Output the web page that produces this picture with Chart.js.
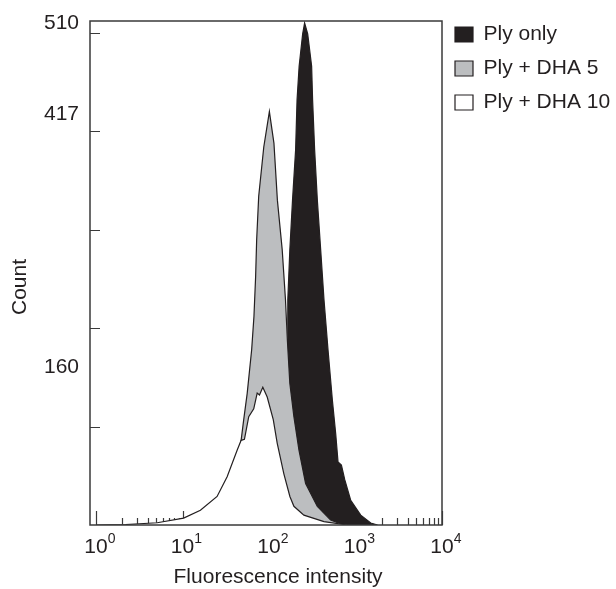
<!DOCTYPE html>
<html>
<head>
<meta charset="utf-8">
<script src="https://cdn.jsdelivr.net/npm/chart.js@4.4.1/dist/chart.umd.min.js"></script>
<style>
  html, body { margin: 0; padding: 0; background: #fff; overflow: hidden; }
  canvas { display: block; }
</style>
</head>
<body>
<canvas id="histChart" width="640" height="589"></canvas>
<script>
// --- DADOS ---
const seriesLabels = ['Ply only', 'Ply + DHA 5', 'Ply + DHA 10'];

const plyOnlyX = [104, 122, 136, 151, 163, 165, 174, 187, 203, 211, 223, 245, 258, 280, 311, 319, 337, 362, 396, 432, 481, 540, 590, 628, 687, 751, 881, 1150, 1500, 1800];
const plyOnlyCount = [0, 15, 50, 120, 188, 229, 279, 330, 381, 432, 466, 499, 510, 499, 466, 432, 381, 330, 279, 229, 178, 127, 93, 64, 61, 46, 25, 10, 2, 0];

const dha5X = [4.2, 16, 31, 41, 47.6, 51, 56, 63, 67, 70, 72, 76, 87, 101, 114, 125, 142, 155, 163, 174, 194, 222, 265, 362, 516, 731];
const dha5Count = [0, 5, 30, 60, 86, 107, 134, 178, 212, 252, 290, 334, 384, 420, 388, 330, 280, 229, 188, 144, 110, 76, 42, 19, 5, 0];

const dha10X = [1, 2.2, 5.1, 10.3, 16.1, 25.1, 32.8, 42.8, 47.6, 52, 58.3, 66.6, 73, 77.6, 84.8, 95.3, 112, 124.5, 148.5, 174.3, 194, 253, 432, 807];
const dha10Count = [0, 0.5, 2.3, 7, 15, 29, 49, 76, 86, 87, 110, 118, 134, 132, 140, 130, 107, 83, 52, 29, 19, 10, 3.4, 0];

const yTickValues = [160, 417, 510];      // rótulos do eixo Y
const yTickMarks = [100, 200, 300, 400, 500];
const xDecades = [0, 1, 2, 3, 4];          // 10^0 ... 10^4

const ink = '#231f20';
const fontFamily = "'Liberation Sans', Arial, Helvetica, sans-serif";

function toPoints(xs, ys) {
    return xs.map((x, i) => ({ x: x, y: ys[i] }));
}

// --- PLUGINS ---
// marcas de escala para dentro do gráfico (desenhadas antes das curvas)
const tickMarks = {
    id: 'tickMarks',
    beforeDatasetsDraw(chart) {
        const { ctx, chartArea: a, scales: { x, y } } = chart;
        ctx.save();
        ctx.strokeStyle = '#3a3a3a';
        ctx.lineWidth = 1.2;
        ctx.beginPath();
        yTickMarks.forEach(v => {
            const py = Math.round(y.getPixelForValue(v)) + 0.5;
            ctx.moveTo(a.left, py);
            ctx.lineTo(a.left + 10, py);
        });
        xDecades.forEach(d => {
            for (let m = 1; m < 10; m++) {
                const v = m * Math.pow(10, d);
                if (v > x.max) break;
                const px = Math.round(x.getPixelForValue(v)) + 0.5;
                ctx.moveTo(px, a.bottom);
                ctx.lineTo(px, a.bottom - (m === 1 ? 14 : 7));
            }
        });
        ctx.stroke();
        ctx.restore();
    }
};

// moldura + textos dos eixos
const frameAndText = {
    id: 'frameAndText',
    afterDraw(chart) {
        const { ctx, chartArea: a, scales: { x } } = chart;
        ctx.save();
        ctx.strokeStyle = '#3a3a3a';
        ctx.lineWidth = 1.5;
        ctx.strokeRect(a.left, a.top, a.right - a.left, a.bottom - a.top);

        ctx.fillStyle = ink;
        ctx.textBaseline = 'alphabetic';
        xDecades.forEach(d => {
            const px = x.getPixelForValue(Math.pow(10, d));
            ctx.font = '21px ' + fontFamily;
            const w = ctx.measureText('10').width;
            ctx.textAlign = 'center';
            ctx.fillText('10', px, a.bottom + 28);
            ctx.font = '14px ' + fontFamily;
            ctx.textAlign = 'left';
            ctx.fillText(String(d), px + w / 2, a.bottom + 18);
        });

        ctx.font = '21px ' + fontFamily;
        ctx.textAlign = 'center';
        ctx.textBaseline = 'middle';
        ctx.fillText('Fluorescence intensity', (a.left + a.right) / 2 + 12, a.bottom + 52);

        ctx.translate(20, (a.top + a.bottom) / 2 + 14);
        ctx.rotate(-Math.PI / 2);
        ctx.fillText('Count', 0, 0);
        ctx.restore();
    }
};

// --- GRÁFICO ---
const ctx = document.getElementById('histChart').getContext('2d');
new Chart(ctx, {
    type: 'line',
    data: {
        datasets: [
            {
                label: seriesLabels[0],
                data: toPoints(plyOnlyX, plyOnlyCount),
                backgroundColor: ink,
                borderColor: ink,
                order: 3
            },
            {
                label: seriesLabels[1],
                data: toPoints(dha5X, dha5Count),
                backgroundColor: '#bcbec0',
                borderColor: ink,
                order: 2
            },
            {
                label: seriesLabels[2],
                data: toPoints(dha10X, dha10Count),
                backgroundColor: '#ffffff',
                borderColor: ink,
                order: 1
            }
        ]
    },
    options: {
        responsive: false,
        animation: false,
        layout: { padding: { top: 11, right: 28, left: 0, bottom: 0 } },
        elements: {
            line: { fill: 'origin', tension: 0, borderWidth: 1.2 },
            point: { radius: 0, hoverRadius: 0 }
        },
        plugins: {
            tooltip: { enabled: false },
            legend: {
                position: 'right',
                align: 'start',
                maxWidth: 170,
                labels: {
                    color: ink,
                    font: { size: 21, family: fontFamily },
                    boxWidth: 18,
                    boxHeight: 15,
                    padding: 13,
                    sort: (a, b) => a.datasetIndex - b.datasetIndex
                }
            }
        },
        scales: {
            x: {
                type: 'logarithmic',
                min: 0.852,
                max: 10000,
                ticks: { display: false },
                grid: { display: false, drawTicks: false },
                border: { display: false },
                afterFit: (scale) => { scale.height = 64; }
            },
            y: {
                min: 0,
                max: 512,
                afterBuildTicks: (scale) => {
                    scale.ticks = yTickValues.map(v => ({ value: v }));
                },
                afterFit: (scale) => {
                    scale.width = 90;
                    scale.paddingTop = 21;
                },
                ticks: {
                    padding: 11,
                    color: ink,
                    font: { size: 21, family: fontFamily }
                },
                grid: { display: false, drawTicks: false },
                border: { display: false }
            }
        }
    },
    plugins: [tickMarks, frameAndText]
});
</script>
</body>
</html>
